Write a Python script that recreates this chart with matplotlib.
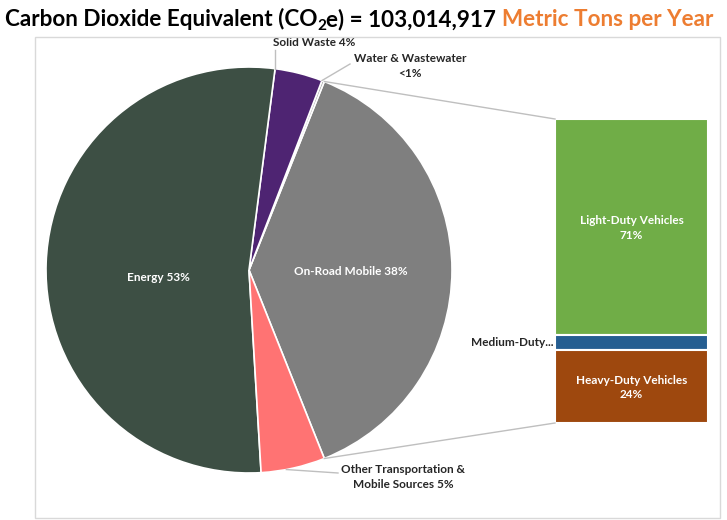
import matplotlib.pyplot as plt
import numpy as np
from matplotlib.patches import Rectangle

plt.rcParams['font.family'] = ['Lato', 'DejaVu Sans']

# ----------------------------
# data
# ----------------------------
pie_labels = ["On-Road Mobile 38%", "Water & Wastewater\n<1%", "Solid Waste 4%",
              "Energy 53%", "Other Transportation &\nMobile Sources 5%"]
pie_values = [37.9, 0.2, 3.8, 53.0, 5.1]
pie_colors = ["#7f7f7f", "#a5a5a5", "#4e2472", "#3d4f44", "#ff7373"]

bar_labels = ["Light-Duty Vehicles\n71%", "Medium-Duty...", "Heavy-Duty Vehicles\n24%"]
bar_values = [71, 5, 24]
bar_colors = ["#70ad47", "#255e91", "#9e480e"]

W, H = 727, 520
fig = plt.figure(figsize=(W / 100, H / 100), dpi=100)
ax = fig.add_axes([0, 0, 1, 1])

def Y(y):
    # pixel row -> data y
    return H - y

# chart frame
fig.patches.append(Rectangle((35 / W, Y(518) / H), (720 - 35) / W, (518 - 37) / H,
                             transform=fig.transFigure, fill=False,
                             edgecolor="#d9d9d9", linewidth=1))

# ----------------------------
# pie
# ----------------------------
cx, cy, R = 249, Y(270), 203
start = -pie_values[0] / 2 * 3.6
wedges, _ = ax.pie(pie_values, colors=pie_colors, startangle=start, counterclock=True,
                   center=(cx, cy), radius=R, frame=True,
                   wedgeprops=dict(edgecolor="white", linewidth=1.2))
ax.set_xlim(0, W)
ax.set_ylim(0, H)
ax.set_aspect("equal")
ax.axis("off")

def pt(theta, r):
    t = np.deg2rad(theta)
    return cx + r * np.cos(t), cy + r * np.sin(t)

FS = 8.5

# inside labels (wedge index, radius fraction, angle nudge)
for i, frac, nudge in [(0, 0.5, -1), (3, 0.45, 7)]:
    w = wedges[i]
    mid = (w.theta1 + w.theta2) / 2 + nudge
    x, y = pt(mid, R * frac)
    ax.text(x, y, pie_labels[i], color="white", fontsize=FS, fontweight="bold",
            ha="center", va="center")

lab_kw = dict(fontsize=FS, fontweight="bold", color="#262626", ha="center", va="center",
              linespacing=1.4)
line_kw = dict(color="#bfbfbf", linewidth=1)

# solid waste
x0, y0 = pt(wedges[2].theta2, R)
ax.plot([x0, x0], [y0, Y(50)], **line_kw)
ax.text(314, Y(43), pie_labels[2], **lab_kw)

# water & wastewater
x0, y0 = pt(wedges[1].theta2, R)
ax.plot([x0, 350], [y0, Y(64)], **line_kw)
ax.text(410, Y(66), pie_labels[1], **lab_kw)

# other transportation
w = wedges[4]
x0, y0 = pt((w.theta1 + w.theta2) / 2 - 2, R)
ax.plot([x0, 338], [y0, Y(473)], **line_kw)
ax.text(403, Y(477), pie_labels[4], **lab_kw)

# ----------------------------
# bar of pie
# ----------------------------
bx0, bx1 = 555, 708
btop, bbot = Y(119), Y(423)
total = sum(bar_values)
scale = (btop - bbot) / total
tops = btop - np.cumsum([0] + bar_values[:-1]) * scale
heights = np.array(bar_values) * scale
ax.bar([(bx0 + bx1) / 2] * 3, -heights, bottom=tops, width=bx1 - bx0,
       color=bar_colors, edgecolor="white", linewidth=1.5)

for i in (0, 2):
    ax.text((bx0 + bx1) / 2, tops[i] - heights[i] / 2 - 1, bar_labels[i], color="white",
            fontsize=FS, fontweight="bold", ha="center", va="center", linespacing=1.4)
ax.text(bx0 - 2, tops[1] - heights[1] / 2, bar_labels[1], fontsize=FS, fontweight="bold",
        color="#262626", ha="right", va="center")

# connector lines
xa, ya = pt(wedges[0].theta2, R)
xb, yb = pt(wedges[0].theta1, R)
ax.plot([xa, bx0], [ya, btop], **line_kw)
ax.plot([xb, bx0], [yb, bbot], **line_kw)

# ----------------------------
# title (pieces)
# ----------------------------
fig.canvas.draw()
renderer = fig.canvas.get_renderer()
pieces = [("Carbon Dioxide Equivalent (CO", "black", 0, 16.2),
          ("2", "black", -4, 11),
          ("e) = 103,014,917 ", "black", 0, 16.2),
          ("Metric Tons per Year", "#ed7d31", 0, 16.2)]
x = 5
for txt, col, dy, fs in pieces:
    t = ax.text(x, Y(26) + dy, txt, color=col, fontsize=fs, fontweight="bold",
                ha="left", va="baseline")
    x += t.get_window_extent(renderer).width

fig.savefig("out.png", dpi=100)
